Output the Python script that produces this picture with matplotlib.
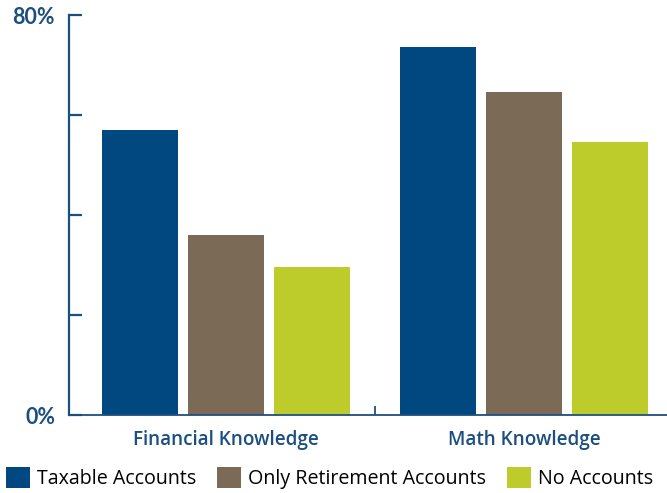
import numpy as np
import matplotlib
matplotlib.use('Agg')
import matplotlib.pyplot as plt

# Dados do gráfico
categorias = ['Financial Knowledge', 'Math Knowledge']
series = ['Taxable Accounts', 'Only Retirement Accounts', 'No Accounts']
taxable = [57.0, 73.6]
only_retirement = [36.0, 64.6]
no_accounts = [29.6, 54.6]
cores = ['#00487F', '#7B6A55', '#BDCB2B']
azul = '#1B4F80'

plt.rcParams['font.family'] = ['Open Sans', 'DejaVu Sans']

fig = plt.figure(figsize=(6.67, 4.93), dpi=100)
ax = fig.add_axes([69 / 667, 78 / 493, 1 - 69 / 667, 400 / 493])

x = np.arange(len(categorias))
largura = 0.255
passo = 0.2886
valores = [taxable, only_retirement, no_accounts]
for i, (nome, vals, cor) in enumerate(zip(series, valores, cores)):
    ax.bar(x + (i - 1) * passo, vals, width=largura, color=cor, label=nome)

ax.set_xlim(-0.527, 1.48)
ax.set_ylim(0, 80)

# Eixos
for lado in ['top', 'right']:
    ax.spines[lado].set_visible(False)
ax.spines['left'].set_color(azul)
ax.spines['left'].set_linewidth(1.6)
ax.spines['bottom'].set_color(azul)
ax.spines['bottom'].set_linewidth(1.3)

ax.set_yticks([0, 20, 40, 60, 80])
ax.set_yticklabels(['0%', '', '', '', '80%'])
ax.tick_params(axis='y', direction='in', length=9.5, width=1.6, color=azul,
               labelcolor=azul, labelsize=15.5, pad=10)
for t in ax.get_yticklabels():
    t.set_fontfamily(['Lato', 'DejaVu Sans'])
    t.set_fontweight('bold')
    t.set_fontstyle('normal')

ax.set_xticks(x)
ax.set_xticklabels(categorias)
ax.set_xticks([0.5], minor=True)
ax.tick_params(axis='x', which='major', length=0, labelcolor=azul, labelsize=13.6, pad=11)
ax.tick_params(axis='x', which='minor', direction='in', length=6.5, width=1.3, color=azul)
for t in ax.get_xticklabels():
    t.set_fontweight('semibold')

# Legenda
fig.legend(loc='lower left', bbox_to_anchor=(6 / 667, 4 / 493), ncol=3, frameon=False,
           fontsize=14.1, handlelength=1.22, handleheight=1.22, handletextpad=0.36,
           columnspacing=1.08, borderpad=0, borderaxespad=0)

fig.savefig('out.png', dpi=100)
